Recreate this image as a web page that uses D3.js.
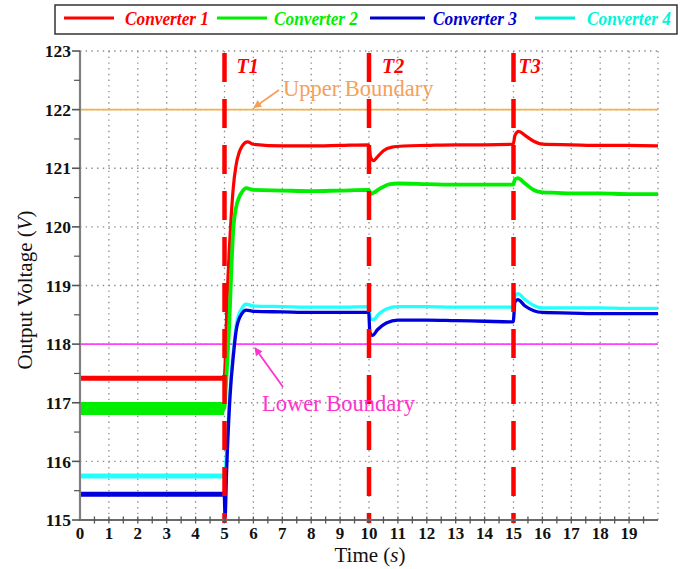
<!DOCTYPE html>
<html><head><meta charset="utf-8">
<script src="https://cdn.jsdelivr.net/npm/d3@7"></script>
<style>body{margin:0;background:#fff}svg{display:block}
text{font-family:"Liberation Serif","Times New Roman",Times,"Nimbus Roman","DejaVu Serif",serif}</style>
</head><body>
<svg id="c" width="691" height="569"></svg>
<script>
// ---- data ----
const seriesNames = ["Converter 1","Converter 2","Converter 3","Converter 4"];
const conv1 = [[0,117.42],[4.99,117.42],[5.0,117.46],[5.1,118.9],[5.21,120.0],[5.3,120.65],[5.4,121.05],[5.5,121.26],[5.6,121.37],[5.8,121.45],[6.0,121.41],[7,121.38],[8,121.38],[9,121.39],[9.99,121.4],[10.05,121.2],[10.15,121.13],[10.3,121.2],[10.5,121.3],[10.8,121.36],[11.2,121.38],[12,121.39],[13,121.4],[14,121.4],[14.99,121.41],[15.05,121.56],[15.18,121.63],[15.4,121.56],[15.7,121.46],[16.0,121.41],[17,121.4],[18,121.39],[19,121.39],[20,121.38]];
const conv2 = [[0,116.9],[4.99,116.9],[5.05,117.3],[5.15,118.2],[5.31,120.0],[5.4,120.33],[5.5,120.5],[5.6,120.59],[5.75,120.66],[6,120.63],[7,120.62],[8,120.61],[9,120.62],[9.99,120.63],[10.05,120.56],[10.15,120.58],[10.4,120.66],[10.73,120.73],[11,120.74],[12,120.73],[13,120.72],[14,120.72],[14.99,120.72],[15.05,120.81],[15.15,120.83],[15.4,120.74],[15.7,120.63],[16.0,120.59],[16.5,120.58],[17,120.57],[18,120.57],[19,120.56],[20,120.56]];
const conv3 = [[0,115.44],[4.99,115.44],[5.02,115.05],[5.07,115.8],[5.19,117.1],[5.31,117.82],[5.42,118.28],[5.6,118.52],[5.75,118.58],[6,118.56],[7,118.55],[8,118.54],[9,118.54],[9.99,118.54],[10.03,118.2],[10.12,118.15],[10.3,118.25],[10.6,118.36],[11,118.41],[12,118.41],[13,118.4],[14,118.39],[14.99,118.38],[15.05,118.72],[15.15,118.76],[15.4,118.65],[15.7,118.57],[16,118.54],[17,118.53],[18,118.52],[19,118.52],[20,118.52]];
const conv4 = [[0,115.75],[4.99,115.75],[5.0,115.72],[5.07,116.14],[5.19,117.21],[5.31,117.9],[5.42,118.36],[5.6,118.61],[5.75,118.68],[6,118.65],[7,118.64],[8,118.63],[9,118.63],[9.99,118.64],[10.05,118.43],[10.15,118.42],[10.35,118.52],[10.6,118.6],[11,118.64],[12,118.64],[13,118.63],[14,118.63],[14.99,118.63],[15.05,118.82],[15.15,118.86],[15.4,118.76],[15.7,118.66],[16,118.62],[17,118.62],[18,118.62],[19,118.61],[20,118.61]];
const eventTimes = [5,10,15];
const eventLabels = ["T1","T2","T3"];
const upperBoundary = 122, lowerBoundary = 118;
const xTickLabels = d3.range(0,20);
const yTickLabels = d3.range(115,124);

// ---- layout ----
const svg = d3.select("#c");
const x = d3.scaleLinear().domain([0,20]).range([80,658]);
const y = d3.scaleLinear().domain([115,123]).range([520,51]);

svg.append("defs").append("clipPath").attr("id","clip")
  .append("rect").attr("x",x(0)).attr("y",y(123)-1).attr("width",x(20)-x(0)+1).attr("height",y(115)-y(123)+1);

// grid
const grid = svg.append("g").attr("stroke","#8a8a8a").attr("stroke-width",1.3).attr("stroke-dasharray","1.4,4.3");
d3.range(1,21).forEach(t=>grid.append("line").attr("x1",x(t)).attr("x2",x(t)).attr("y1",y(123)).attr("y2",y(115)));
d3.range(116,124).forEach(v=>grid.append("line").attr("x1",x(0)).attr("x2",x(20)).attr("y1",y(v)).attr("y2",y(v)));

// boundaries
svg.append("line").attr("x1",x(0)).attr("x2",x(20)).attr("y1",y(upperBoundary)).attr("y2",y(upperBoundary)).attr("stroke","#F2B24A").attr("stroke-width",1.6);
svg.append("line").attr("x1",x(0)).attr("x2",x(20)).attr("y1",y(lowerBoundary)).attr("y2",y(lowerBoundary)).attr("stroke","#FF40FF").attr("stroke-width",1.6);

// series
const line = d3.line().x(d=>x(d[0])).y(d=>y(d[1])).curve(d3.curveMonotoneX);
const plot = svg.append("g").attr("clip-path","url(#clip)");
const colors = ["#FF0000","#00EE00","#0000DD","#22FFFF"];
const data = [conv1,conv2,conv3,conv4];
const widths = [3.2,3.8,3.3,3.3];
const order = [0,1,3,2];
const preWidths = [5,13,5,5];
order.forEach(i=>{
  plot.append("path").datum(data[i].filter(d=>d[0]<5)).attr("d",line)
    .attr("fill","none").attr("stroke",colors[i]).attr("stroke-width",preWidths[i]);
  plot.append("path").datum(data[i]).attr("d",line)
    .attr("fill","none").attr("stroke",colors[i]).attr("stroke-width",widths[i]).attr("stroke-linejoin","round");
});

// event dashed lines
eventTimes.forEach((t,i)=>{
  svg.append("line").attr("x1",x(t)).attr("x2",x(t)).attr("y1",53).attr("y2",y(115)+3)
    .attr("stroke","#FF0000").attr("stroke-width",4.5).attr("stroke-dasharray","29,17");
});
const tOff = [12,13,5];
eventLabels.forEach((s,i)=>{
  svg.append("text").attr("x",x(eventTimes[i])+tOff[i]).attr("y",73).text(s)
    .attr("font-weight","bold").attr("font-style","italic")
    .attr("font-size",20).attr("fill","#FF0000");
});

// axes
const axc = "#808080";
svg.append("line").attr("x1",x(0)).attr("x2",x(0)).attr("y1",y(123)).attr("y2",y(115)+1).attr("stroke",axc).attr("stroke-width",2.2);
svg.append("line").attr("x1",x(0)).attr("x2",x(20)).attr("y1",y(115)).attr("y2",y(115)).attr("stroke","#6a6a6a").attr("stroke-width",2.2);
d3.range(115,123.01,0.5).forEach(v=>{
  const maj = Math.abs(v-Math.round(v))<1e-6;
  svg.append("line").attr("x1",x(0)-(maj?8:6)).attr("x2",x(0)).attr("y1",y(v)).attr("y2",y(v))
    .attr("stroke","#555").attr("stroke-width",maj?1.6:1.2);
});
yTickLabels.forEach(v=>{
  svg.append("text").attr("x",71).attr("y",y(v)).attr("dy","0.35em").attr("text-anchor","end").text(v)
    .attr("font-weight","bold").attr("font-size",17.5).attr("fill","#111");
});
d3.range(0.5,20,0.5).forEach(t=>{
  svg.append("line").attr("x1",x(t)).attr("x2",x(t)).attr("y1",y(115)-3.5).attr("y2",y(115)+3.5)
    .attr("stroke","#555").attr("stroke-width",1.3);
});
xTickLabels.forEach(t=>{
  svg.append("text").attr("x",x(t)).attr("y",539).attr("text-anchor","middle").text(t)
    .attr("font-weight","bold").attr("font-size",17).attr("fill","#111");
});

// axis titles
const xt = svg.append("text").attr("x",370).attr("y",562).attr("text-anchor","middle")
  .attr("font-size",21).attr("fill","#111");
xt.append("tspan").text("Time (");
xt.append("tspan").attr("font-style","italic").text("s");
xt.append("tspan").text(")");
const yt = svg.append("text").attr("transform","translate(32,290) rotate(-90)").attr("text-anchor","middle")
  .attr("font-size",21).attr("fill","#111");
yt.append("tspan").text("Output Voltage (");
yt.append("tspan").attr("font-style","italic").text("V");
yt.append("tspan").text(")");

// boundary annotations
const defs = svg.select("defs");
[["arrU","#F5A05A"],["arrL","#FF33CC"]].forEach(([id,c])=>{
  defs.append("marker").attr("id",id).attr("viewBox","0 0 10 10").attr("refX",9).attr("refY",5)
    .attr("markerWidth",4.5).attr("markerHeight",4.5).attr("orient","auto")
    .append("path").attr("d","M0,0L10,5L0,10z").attr("fill",c);
});
svg.append("line").attr("x1",279).attr("y1",90).attr("x2",254).attr("y2",107.5)
  .attr("stroke","#F5A05A").attr("stroke-width",1.8).attr("marker-end","url(#arrU)");
svg.append("text").attr("x",283).attr("y",96).text("Upper Boundary")
  .attr("font-size",22.5).attr("fill","#F5A05A");
svg.append("line").attr("x1",283).attr("y1",387).attr("x2",255).attr("y2",348)
  .attr("stroke","#FF33CC").attr("stroke-width",1.8).attr("marker-end","url(#arrL)");
svg.append("text").attr("x",262).attr("y",411).text("Lower Boundary")
  .attr("font-size",22.5).attr("fill","#FF33CC");

// legend
svg.append("rect").attr("x",55).attr("y",5).attr("width",622).attr("height",29)
  .attr("fill","#fff").attr("stroke","#333").attr("stroke-width",1.5);
const legColors = ["#FF0000","#00EE00","#0000CC","#00F5D8"];
const legLine = [[64,114],[217,267],[370,425],[535,575]];
const legText = [125,274,433,587];
seriesNames.forEach((n,i)=>{
  svg.append("line").attr("x1",legLine[i][0]).attr("x2",legLine[i][1]).attr("y1",18).attr("y2",18)
    .attr("stroke",legColors[i]).attr("stroke-width",3);
  svg.append("text").attr("x",legText[i]).attr("y",25).text(n)
    .attr("font-weight","bold").attr("font-style","italic")
    .attr("font-size",18.5).attr("textLength",84).attr("lengthAdjust","spacingAndGlyphs")
    .attr("fill",legColors[i]);
});
</script>
</body></html>
